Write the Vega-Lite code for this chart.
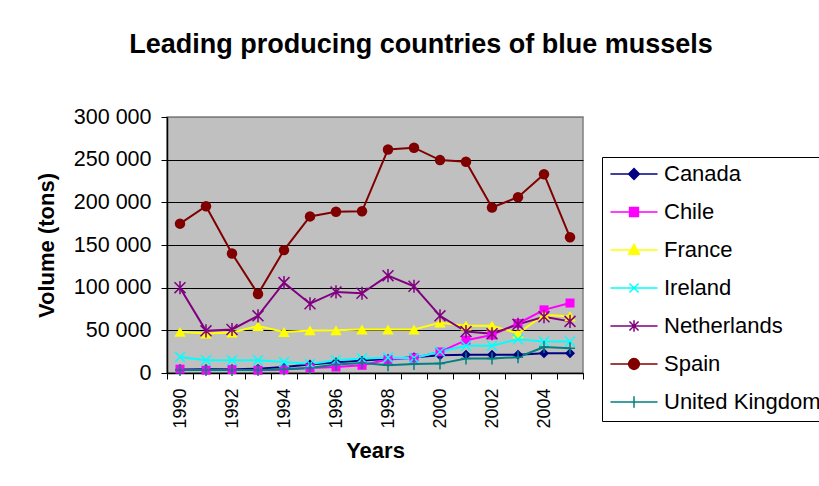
{
  "$schema": "https://vega.github.io/schema/vega-lite/v6.json",
  "autosize": {"type": "none"},
  "padding": {"left": 167, "top": 117, "right": 236, "bottom": 113},
  "width": 416,
  "height": 256,
  "background": "white",
  "title": {
    "text": "Leading producing countries of blue mussels",
    "font": "Liberation Sans",
    "fontSize": 27,
    "fontWeight": "bold",
    "color": "black",
    "anchor": "middle",
    "frame": "group",
    "baseline": "alphabetic",
    "dx": 46,
    "offset": 26
  },
  "config": {
    "font": "Liberation Sans",
    "view": {"fill": "#C0C0C0", "stroke": "#808080", "strokeWidth": 1.5},
    "axis": {
      "labelFont": "Liberation Sans",
      "titleFont": "Liberation Sans",
      "labelColor": "black",
      "titleColor": "black",
      "domainColor": "black",
      "tickColor": "black",
      "gridColor": "black",
      "gridOpacity": 1
    }
  },
  "data": {
    "values": [
      {"year": 1990, "country": "Canada", "volume": 4000},
      {"year": 1991, "country": "Canada", "volume": 4500},
      {"year": 1992, "country": "Canada", "volume": 4500},
      {"year": 1993, "country": "Canada", "volume": 5000},
      {"year": 1994, "country": "Canada", "volume": 7000},
      {"year": 1995, "country": "Canada", "volume": 10000},
      {"year": 1996, "country": "Canada", "volume": 12500},
      {"year": 1997, "country": "Canada", "volume": 14500},
      {"year": 1998, "country": "Canada", "volume": 16500},
      {"year": 1999, "country": "Canada", "volume": 18500},
      {"year": 2000, "country": "Canada", "volume": 20800},
      {"year": 2001, "country": "Canada", "volume": 21500},
      {"year": 2002, "country": "Canada", "volume": 21500},
      {"year": 2003, "country": "Canada", "volume": 21500},
      {"year": 2004, "country": "Canada", "volume": 23000},
      {"year": 2005, "country": "Canada", "volume": 23000},
      {"year": 1990, "country": "Chile", "volume": 4500},
      {"year": 1991, "country": "Chile", "volume": 3200},
      {"year": 1992, "country": "Chile", "volume": 4000},
      {"year": 1993, "country": "Chile", "volume": 3200},
      {"year": 1994, "country": "Chile", "volume": 4000},
      {"year": 1995, "country": "Chile", "volume": 6000},
      {"year": 1996, "country": "Chile", "volume": 7000},
      {"year": 1997, "country": "Chile", "volume": 9000},
      {"year": 1998, "country": "Chile", "volume": 15800},
      {"year": 1999, "country": "Chile", "volume": 17600},
      {"year": 2000, "country": "Chile", "volume": 24700},
      {"year": 2001, "country": "Chile", "volume": 38500},
      {"year": 2002, "country": "Chile", "volume": 44500},
      {"year": 2003, "country": "Chile", "volume": 58000},
      {"year": 2004, "country": "Chile", "volume": 74000},
      {"year": 2005, "country": "Chile", "volume": 82000},
      {"year": 1990, "country": "France", "volume": 48200},
      {"year": 1991, "country": "France", "volume": 46300},
      {"year": 1992, "country": "France", "volume": 47500},
      {"year": 1993, "country": "France", "volume": 55000},
      {"year": 1994, "country": "France", "volume": 48000},
      {"year": 1995, "country": "France", "volume": 49900},
      {"year": 1996, "country": "France", "volume": 50000},
      {"year": 1997, "country": "France", "volume": 51000},
      {"year": 1998, "country": "France", "volume": 51000},
      {"year": 1999, "country": "France", "volume": 51000},
      {"year": 2000, "country": "France", "volume": 59000},
      {"year": 2001, "country": "France", "volume": 55500},
      {"year": 2002, "country": "France", "volume": 55500},
      {"year": 2003, "country": "France", "volume": 46500},
      {"year": 2004, "country": "France", "volume": 68000},
      {"year": 2005, "country": "France", "volume": 66500},
      {"year": 1990, "country": "Ireland", "volume": 18800},
      {"year": 1991, "country": "Ireland", "volume": 15000},
      {"year": 1992, "country": "Ireland", "volume": 15000},
      {"year": 1993, "country": "Ireland", "volume": 15000},
      {"year": 1994, "country": "Ireland", "volume": 13000},
      {"year": 1995, "country": "Ireland", "volume": 10500},
      {"year": 1996, "country": "Ireland", "volume": 15000},
      {"year": 1997, "country": "Ireland", "volume": 17000},
      {"year": 1998, "country": "Ireland", "volume": 18000},
      {"year": 1999, "country": "Ireland", "volume": 17600},
      {"year": 2000, "country": "Ireland", "volume": 25000},
      {"year": 2001, "country": "Ireland", "volume": 32000},
      {"year": 2002, "country": "Ireland", "volume": 32000},
      {"year": 2003, "country": "Ireland", "volume": 39600},
      {"year": 2004, "country": "Ireland", "volume": 37000},
      {"year": 2005, "country": "Ireland", "volume": 37000},
      {"year": 1990, "country": "Netherlands", "volume": 100000},
      {"year": 1991, "country": "Netherlands", "volume": 49400},
      {"year": 1992, "country": "Netherlands", "volume": 51000},
      {"year": 1993, "country": "Netherlands", "volume": 67000},
      {"year": 1994, "country": "Netherlands", "volume": 105900},
      {"year": 1995, "country": "Netherlands", "volume": 81200},
      {"year": 1996, "country": "Netherlands", "volume": 95000},
      {"year": 1997, "country": "Netherlands", "volume": 93400},
      {"year": 1998, "country": "Netherlands", "volume": 114100},
      {"year": 1999, "country": "Netherlands", "volume": 101600},
      {"year": 2000, "country": "Netherlands", "volume": 67000},
      {"year": 2001, "country": "Netherlands", "volume": 48500},
      {"year": 2002, "country": "Netherlands", "volume": 46000},
      {"year": 2003, "country": "Netherlands", "volume": 57000},
      {"year": 2004, "country": "Netherlands", "volume": 66000},
      {"year": 2005, "country": "Netherlands", "volume": 60500},
      {"year": 1990, "country": "Spain", "volume": 175000},
      {"year": 1991, "country": "Spain", "volume": 195500},
      {"year": 1992, "country": "Spain", "volume": 140000},
      {"year": 1993, "country": "Spain", "volume": 92500},
      {"year": 1994, "country": "Spain", "volume": 144000},
      {"year": 1995, "country": "Spain", "volume": 183500},
      {"year": 1996, "country": "Spain", "volume": 189000},
      {"year": 1997, "country": "Spain", "volume": 189500},
      {"year": 1998, "country": "Spain", "volume": 262000},
      {"year": 1999, "country": "Spain", "volume": 264000},
      {"year": 2000, "country": "Spain", "volume": 249500},
      {"year": 2001, "country": "Spain", "volume": 247500},
      {"year": 2002, "country": "Spain", "volume": 194000},
      {"year": 2003, "country": "Spain", "volume": 206000},
      {"year": 2004, "country": "Spain", "volume": 233000},
      {"year": 2005, "country": "Spain", "volume": 159000},
      {"year": 1990, "country": "United Kingdom", "volume": 3500},
      {"year": 1991, "country": "United Kingdom", "volume": 3500},
      {"year": 1992, "country": "United Kingdom", "volume": 3500},
      {"year": 1993, "country": "United Kingdom", "volume": 3500},
      {"year": 1994, "country": "United Kingdom", "volume": 4500},
      {"year": 1995, "country": "United Kingdom", "volume": 6000},
      {"year": 1996, "country": "United Kingdom", "volume": 9900},
      {"year": 1997, "country": "United Kingdom", "volume": 11800},
      {"year": 1998, "country": "United Kingdom", "volume": 9000},
      {"year": 1999, "country": "United Kingdom", "volume": 10500},
      {"year": 2000, "country": "United Kingdom", "volume": 11000},
      {"year": 2001, "country": "United Kingdom", "volume": 17000},
      {"year": 2002, "country": "United Kingdom", "volume": 17000},
      {"year": 2003, "country": "United Kingdom", "volume": 18500},
      {"year": 2004, "country": "United Kingdom", "volume": 30500},
      {"year": 2005, "country": "United Kingdom", "volume": 29000}
    ]
  },
  "encoding": {
    "x": {
      "field": "year",
      "type": "ordinal",
      "scale": {"type": "band", "paddingInner": 0, "paddingOuter": 0},
      "axis": {
        "title": "Years",
        "titleFontSize": 22,
        "titleFontWeight": "bold",
        "titlePadding": 12,
        "labelFontSize": 18,
        "labelAngle": 270,
        "labelPadding": 9,
        "labelExpr": "datum.value % 2 === 0 ? datum.label : ''",
        "tickBand": "extent",
        "tickSize": 6,
        "domainWidth": 1.5,
        "grid": false
      }
    },
    "y": {
      "field": "volume",
      "type": "quantitative",
      "scale": {"domain": [0, 300000], "nice": false},
      "axis": {
        "title": "Volume (tons)",
        "titleFontSize": 22,
        "titleFontWeight": "bold",
        "titlePadding": 15,
        "labelFontSize": 21.5,
        "labelPadding": 10,
        "labelOverlap": false,
        "tickSize": 6,
        "values": [0, 50000, 100000, 150000, 200000, 250000, 300000],
        "labelExpr": "replace(format(datum.value, ','), /,/g, ' ')",
        "domainWidth": 1.5,
        "grid": true,
        "gridColor": {"condition": {"test": "datum.value === 300000", "value": "#808080"}, "value": "black"}
      }
    },
    "color": {
      "field": "country",
      "type": "nominal",
      "scale": {
        "domain": ["Canada", "Chile", "France", "Ireland", "Netherlands", "Spain", "United Kingdom"],
        "range": ["#000080", "#FF00FF", "#FFFF00", "#00FFFF", "#800080", "#800000", "#008080"]
      }
    }
  },
  "layer": [
    {
      "mark": {"type": "line", "strokeWidth": 2},
      "encoding": {
        "color": {
          "field": "country",
          "type": "nominal",
          "legend": {
            "title": null,
            "orient": "none",
            "legendX": 435,
            "legendY": 40,
            "padding": 0,
            "strokeColor": "black",
            "fillColor": "white",
            "labelFont": "Liberation Sans",
            "labelFontSize": 22,
            "labelColor": "black",
            "labelLimit": 400,
            "labelOffset": 13,
            "symbolSize": 1000,
            "symbolStrokeWidth": 1.5,
            "symbolOffset": 15,
            "rowPadding": 0,
            "encode": {
              "symbols": {
                "update": {
                  "shape": {"signal": "datum.value === 'Canada' ? 'M0,-1M0,1M-1.49,0H1.49M0,-0.34L0.34,0L0,0.34L-0.34,0Z' : datum.value === 'Chile' ? 'M0,-1M0,1M-1.49,0H1.49M-0.28,-0.28H0.28V0.28H-0.28Z' : datum.value === 'France' ? 'M0,-1M0,1M-1.49,0H1.49M0,-0.36L0.34,0.27H-0.34Z' : datum.value === 'Ireland' ? 'M0,-1M0,1M-1.49,0H1.49M-0.29,-0.29L0.29,0.29M-0.29,0.29L0.29,-0.29' : datum.value === 'Netherlands' ? 'M0,-1M0,1M-1.49,0H1.49M-0.29,-0.29L0.29,0.29M-0.29,0.29L0.29,-0.29M0,-0.36V0.36' : datum.value === 'Spain' ? 'M0,-1M0,1M-1.49,0H1.49M-0.34,0A0.34,0.34 0 1,0 0.34,0A0.34,0.34 0 1,0 -0.34,0Z' : 'M0,-1M0,1M-1.49,0H1.49M0,-0.36V0.36'"},
                  "stroke": {"scale": "color", "field": "value"},
                  "fill": {"signal": "indexof(['Canada','Chile','France','Spain'], datum.value) >= 0 ? scale('color', datum.value) : 'transparent'"},
                  "strokeWidth": {"value": 1.5},
                  "size": {"value": 1000},
                  "opacity": {"value": 1}
                }
              }
            }
          }
        }
      }
    },
    {
      "transform": [{"filter": "datum.country === 'Canada'"}],
      "mark": {"type": "point", "shape": "diamond", "filled": true, "size": 100, "opacity": 1}
    },
    {
      "transform": [{"filter": "datum.country === 'Chile'"}],
      "mark": {"type": "point", "shape": "square", "filled": true, "size": 81, "opacity": 1}
    },
    {
      "transform": [{"filter": "datum.country === 'France'"}],
      "mark": {"type": "point", "shape": "triangle-up", "filled": true, "size": 130, "opacity": 1}
    },
    {
      "transform": [{"filter": "datum.country === 'Ireland'"}],
      "mark": {"type": "point", "shape": "M-1,-1L1,1M-1,1L1,-1", "filled": false, "size": 100, "strokeWidth": 1.5, "opacity": 1}
    },
    {
      "transform": [{"filter": "datum.country === 'Netherlands'"}],
      "mark": {"type": "point", "shape": "M-1,-1L1,1M-1,1L1,-1M0,-1.2V1.2", "filled": false, "size": 120, "strokeWidth": 1.5, "opacity": 1}
    },
    {
      "transform": [{"filter": "datum.country === 'Spain'"}],
      "mark": {"type": "point", "shape": "circle", "filled": true, "size": 110, "opacity": 1}
    },
    {
      "transform": [{"filter": "datum.country === 'United Kingdom'"}],
      "mark": {"type": "point", "shape": "M-1,0H1M0,-1.2V1.2", "filled": false, "size": 100, "strokeWidth": 1.5, "opacity": 1}
    }
  ]
}
